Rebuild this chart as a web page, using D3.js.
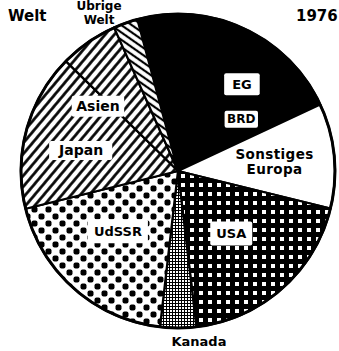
<!DOCTYPE html>
<html>
<head>
<meta charset="utf-8">
<script src="https://cdn.jsdelivr.net/npm/d3@7"></script>
<style>
  html, body { margin: 0; padding: 0; background: #fff; }
  svg { display: block; }
  text { font-family: "DejaVu Sans", sans-serif; font-weight: bold; fill: #000; }
</style>
</head>
<body>
<script>
// Shares of the world total, 1976 (percent), clockwise from the top
const regions = ["EG", "Sonstiges Europa", "USA", "Kanada", "UdSSR", "Japan", "Asien", "Übrige Welt"];
const shares  = [22.2, 10.8, 19.3, 3.7, 19.3, 16.2, 6.0, 2.5];
const subLabels = ["BRD"];          // shown inside the EG slice
const titleLeft = "Welt";
const titleRight = "1976";

const W = 339, H = 351;
const cx = 178, cy = 171, R = 157;
const deg = Math.PI / 180;

const svg = d3.select("body").append("svg").attr("width", W).attr("height", H);
const defs = svg.append("defs");

// --- fill patterns -------------------------------------------------------
// USA: white squares on black
const pUSA = defs.append("pattern").attr("id", "pUSA").attr("patternUnits", "userSpaceOnUse")
  .attr("width", 9).attr("height", 9);
pUSA.append("rect").attr("width", 9).attr("height", 9).attr("fill", "#000");
pUSA.append("rect").attr("x", 3).attr("y", 3).attr("width", 4).attr("height", 4).attr("fill", "#fff");

// Kanada: fine net
const pKan = defs.append("pattern").attr("id", "pKan").attr("patternUnits", "userSpaceOnUse")
  .attr("width", 3).attr("height", 3);
pKan.append("rect").attr("width", 3).attr("height", 3).attr("fill", "#000");
pKan.append("rect").attr("x", 1).attr("y", 1).attr("width", 2).attr("height", 2).attr("fill", "#fff");

// UdSSR: coarse dots on a diagonal lattice
const pSU = defs.append("pattern").attr("id", "pSU").attr("patternUnits", "userSpaceOnUse")
  .attr("width", 14).attr("height", 14);
pSU.append("rect").attr("width", 14).attr("height", 14).attr("fill", "#fff");
[[3.5, 3.5], [10.5, 10.5]].forEach(([x, y]) =>
  pSU.append("rect").attr("x", x - 3).attr("y", y - 3).attr("width", 6).attr("height", 6)
    .attr("rx", 2).attr("fill", "#000"));

// Japan / Asien: "/" hatching
const pHatch = defs.append("pattern").attr("id", "pHatch").attr("patternUnits", "userSpaceOnUse")
  .attr("width", 7).attr("height", 7).attr("patternTransform", "rotate(40)");
pHatch.append("rect").attr("width", 7).attr("height", 7).attr("fill", "#fff");
pHatch.append("line").attr("x1", 3.5).attr("x2", 3.5).attr("y1", 0).attr("y2", 7)
  .attr("stroke", "#000").attr("stroke-width", 2.7);

// Übrige Welt: "\" hatching
const pBack = defs.append("pattern").attr("id", "pBack").attr("patternUnits", "userSpaceOnUse")
  .attr("width", 6).attr("height", 6).attr("patternTransform", "rotate(35)");
pBack.append("rect").attr("width", 6).attr("height", 6).attr("fill", "#fff");
pBack.append("line").attr("x1", 0).attr("x2", 6).attr("y1", 3).attr("y2", 3)
  .attr("stroke", "#000").attr("stroke-width", 2.2);

const fillOf = {
  "EG": "#000",
  "Sonstiges Europa": "#fff",
  "USA": "url(#pUSA)",
  "Kanada": "url(#pKan)",
  "UdSSR": "url(#pSU)",
  "Japan": "url(#pHatch)",
  "Asien": "url(#pHatch)",
  "Übrige Welt": "url(#pBack)"
};

// --- pie -----------------------------------------------------------------
const start = -15 * deg;
const pie = d3.pie().sort(null).startAngle(start).endAngle(start + 2 * Math.PI);
const arcs = pie(shares);
const arc = d3.arc().innerRadius(0).outerRadius(R);

const g = svg.append("g").attr("transform", `translate(${cx},${cy})`);
g.selectAll("path.slice").data(arcs).join("path")
  .attr("class", "slice")
  .attr("d", arc)
  .attr("fill", (d, i) => fillOf[regions[i]])
  .attr("stroke", "#000").attr("stroke-width", 2.2).attr("stroke-linejoin", "round");

g.append("circle").attr("r", R).attr("fill", "none").attr("stroke", "#000").attr("stroke-width", 3);

// --- labels --------------------------------------------------------------
// polar placement (degrees clockwise from top, radius in px), line height and box padding
const place = {
  "EG":               { a: 36.3, r: 108, size: 13, px: 8, py: 3.5 },
  "BRD":              { a: 50.5, r: 82,  size: 12, px: 2.5, py: 1.5 },
  "Sonstiges Europa": { a: 84.5, r: 97,  size: 13.5, lh: 14.5, ls: 0.4, box: false },
  "USA":              { a: 139.5, r: 82, size: 13, px: 6, py: 4.5 },
  "UdSSR":            { a: 225, r: 85,   size: 13, px: 6, py: 4.5 },
  "Japan":            { a: 282, r: 99,   size: 14, px: 9, py: 1.5 },
  "Asien":            { a: 309, r: 103,  size: 14, px: 4.5, py: 2.5 },
  "Kanada":           { a: 173, r: 172,  size: 13, box: false },
  "Übrige Welt":      { a: 333.5, r: 177, size: 12, lh: 13.5, box: false }
};
const polar = (a, r) => [r * Math.sin(a * deg), -r * Math.cos(a * deg)];

function label(name) {
  const p = place[name];
  const [x, y] = polar(p.a, p.r);
  const grp = g.append("g").attr("transform", `translate(${x},${y})`);
  const lines = name === "Sonstiges Europa" ? ["Sonstiges", "Europa"]
              : name === "Übrige Welt" ? ["Übrige", "Welt"] : [name];
  const lh = p.lh || p.size * 1.05;
  const t = grp.append("text").attr("text-anchor", "middle").attr("font-size", p.size)
    .attr("letter-spacing", p.ls || 0);
  lines.forEach((s, i) => t.append("tspan").attr("x", 0)
    .attr("y", (i - (lines.length - 1) / 2) * lh).attr("dy", "0.36em").text(s));
  if (p.box !== false) {
    const b = t.node().getBBox();
    grp.insert("rect", "text")
      .attr("x", b.x - p.px).attr("y", b.y - p.py)
      .attr("width", b.width + 2 * p.px).attr("height", b.height + 2 * p.py)
      .attr("rx", 2).attr("fill", "#fff");
  }
}
regions.forEach(label);
subLabels.forEach(label);

svg.append("text").attr("x", 8).attr("y", 21).attr("font-size", 15).text(titleLeft);
svg.append("text").attr("x", 296).attr("y", 21).attr("font-size", 15).text(titleRight);
</script>
</body>
</html>
